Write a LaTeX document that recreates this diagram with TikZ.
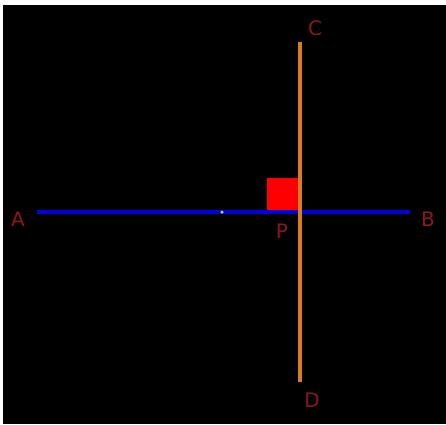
\documentclass[tikz,border=0pt]{standalone}
\usepackage{fontspec}
\setmainfont{DejaVu Sans}
\begin{document}
\begin{tikzpicture}[x=1pt,y=-1pt,
  lbl/.style={text=labelred,font=\fontsize{20}{20}\selectfont,inner sep=0pt},
  blueline/.style={draw=lineblue,line width=4.5pt},
  orangeline/.style={draw=lineorange,line width=3.5pt}]
\definecolor{labelred}{HTML}{8E1818}
\definecolor{lineblue}{HTML}{0000DD}
\definecolor{lineorange}{HTML}{D97E1E}
\useasboundingbox (0,0) rectangle (446,424);
\fill[white] (0,0) rectangle (446,424);
\fill[black] (3,5) rectangle (446,424);
\coordinate (a) at (37,212);
\coordinate (b) at (410,212);
\coordinate (c) at (300,42);
\coordinate (d) at (300,382);
\coordinate (p) at (300,212);
\node[lbl] (la) at (18,219) {A};
\node[lbl] (lb) at (428,219) {B};
\node[lbl] (lc) at (315,28) {C};
\node[lbl] (ld) at (312,400) {D};
\node[lbl] (lp) at (282,231) {P};
\fill[red] (267,178) rectangle (p);
\draw[blueline] (a) -- (b);
\draw[orangeline] (c) -- (d);
\node[circle,fill=gray!60!blue!30,inner sep=0pt,minimum size=3.5pt] (m) at (222,212) {};
\end{tikzpicture}
\end{document}
